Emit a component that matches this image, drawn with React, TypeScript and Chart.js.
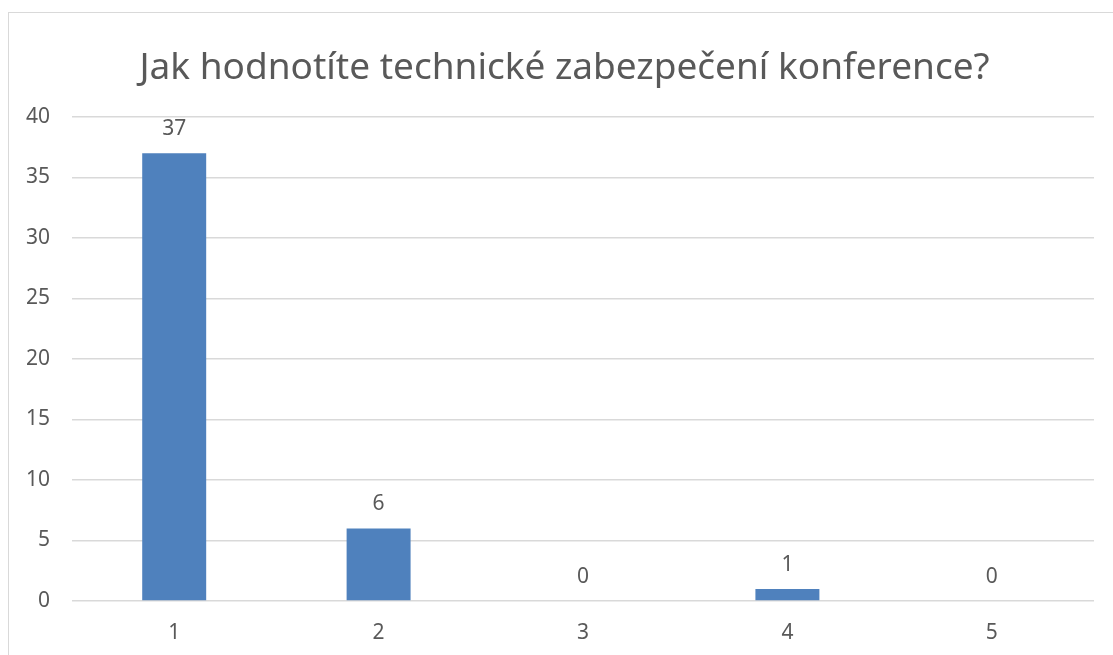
import React, { useEffect, useRef } from "react";
import { Chart, registerables } from "chart.js";

Chart.register(...registerables);

const titleText = "Jak hodnotíte technické zabezpečení konference?";
const categories = ["1", "2", "3", "4", "5"];
const counts = [37, 6, 0, 1, 0];
const yMax = 40;
const yStep = 5;

const TEXT = "#595959";
const GRID = "#D9D9D9";
const BAR = "#4F81BD";
const FONT = "'Noto Sans', 'DejaVu Sans', sans-serif";
const TICK_SIZE = 21;

const labelPlugin = {
  id: "barLabels",
  afterDatasetsDraw(chart: any) {
    const ctx = chart.ctx;
    const meta = chart.getDatasetMeta(0);
    ctx.save();
    ctx.fillStyle = TEXT;
    ctx.font = `${TICK_SIZE}px ${FONT}`;
    ctx.textAlign = "center";
    ctx.textBaseline = "middle";
    meta.data.forEach((el: any, i: number) => {
      ctx.fillText(String(counts[i]), el.x, el.y - 24);
    });
    ctx.font = `37px ${FONT}`;
    ctx.fillText(titleText, chart.width / 2 + 3.5, 55);
    ctx.restore();
  },
};

export default function App() {
  const ref = useRef<HTMLCanvasElement | null>(null);
  useEffect(() => {
    if (!ref.current) return;
    const chart = new Chart(ref.current, {
      type: "bar",
      data: {
        labels: categories,
        datasets: [
          {
            data: counts,
            backgroundColor: BAR,
            borderWidth: 0,
            categoryPercentage: 1,
            barPercentage: 0.313,
          },
        ],
      },
      options: {
        responsive: false,
        animation: false,
        layout: { padding: { left: 0, right: 19, top: 104, bottom: 0 } },
        plugins: {
          legend: { display: false },
          tooltip: { enabled: false },
          title: { display: false },
        },
        scales: {
          x: {
            grid: { display: false, drawTicks: false },
            border: { display: false },
            ticks: { color: TEXT, font: { family: FONT, size: TICK_SIZE }, padding: 19 },
            afterFit(scale: any) {
              scale.height = 54;
            },
          },
          y: {
            min: 0,
            max: yMax,
            ticks: {
              stepSize: yStep,
              color: TEXT,
              font: { family: FONT, size: TICK_SIZE },
              padding: 22,
            },
            grid: { color: GRID, lineWidth: 1.5, drawTicks: false },
            border: { display: false },
            afterFit(scale: any) {
              scale.width = 63;
            },
          },
        },
      },
      plugins: [labelPlugin],
    });
    return () => chart.destroy();
  }, []);

  return (
    <div
      style={{
        position: "fixed",
        left: 8,
        top: 12,
        width: 1105,
        height: 643,
        borderTop: `1.5px solid ${GRID}`,
        borderLeft: `1.5px solid ${GRID}`,
        background: "#fff",
        boxSizing: "border-box",
      }}
    >
      <canvas ref={ref} width={1104} height={642} style={{ display: "block" }} />
    </div>
  );
}
